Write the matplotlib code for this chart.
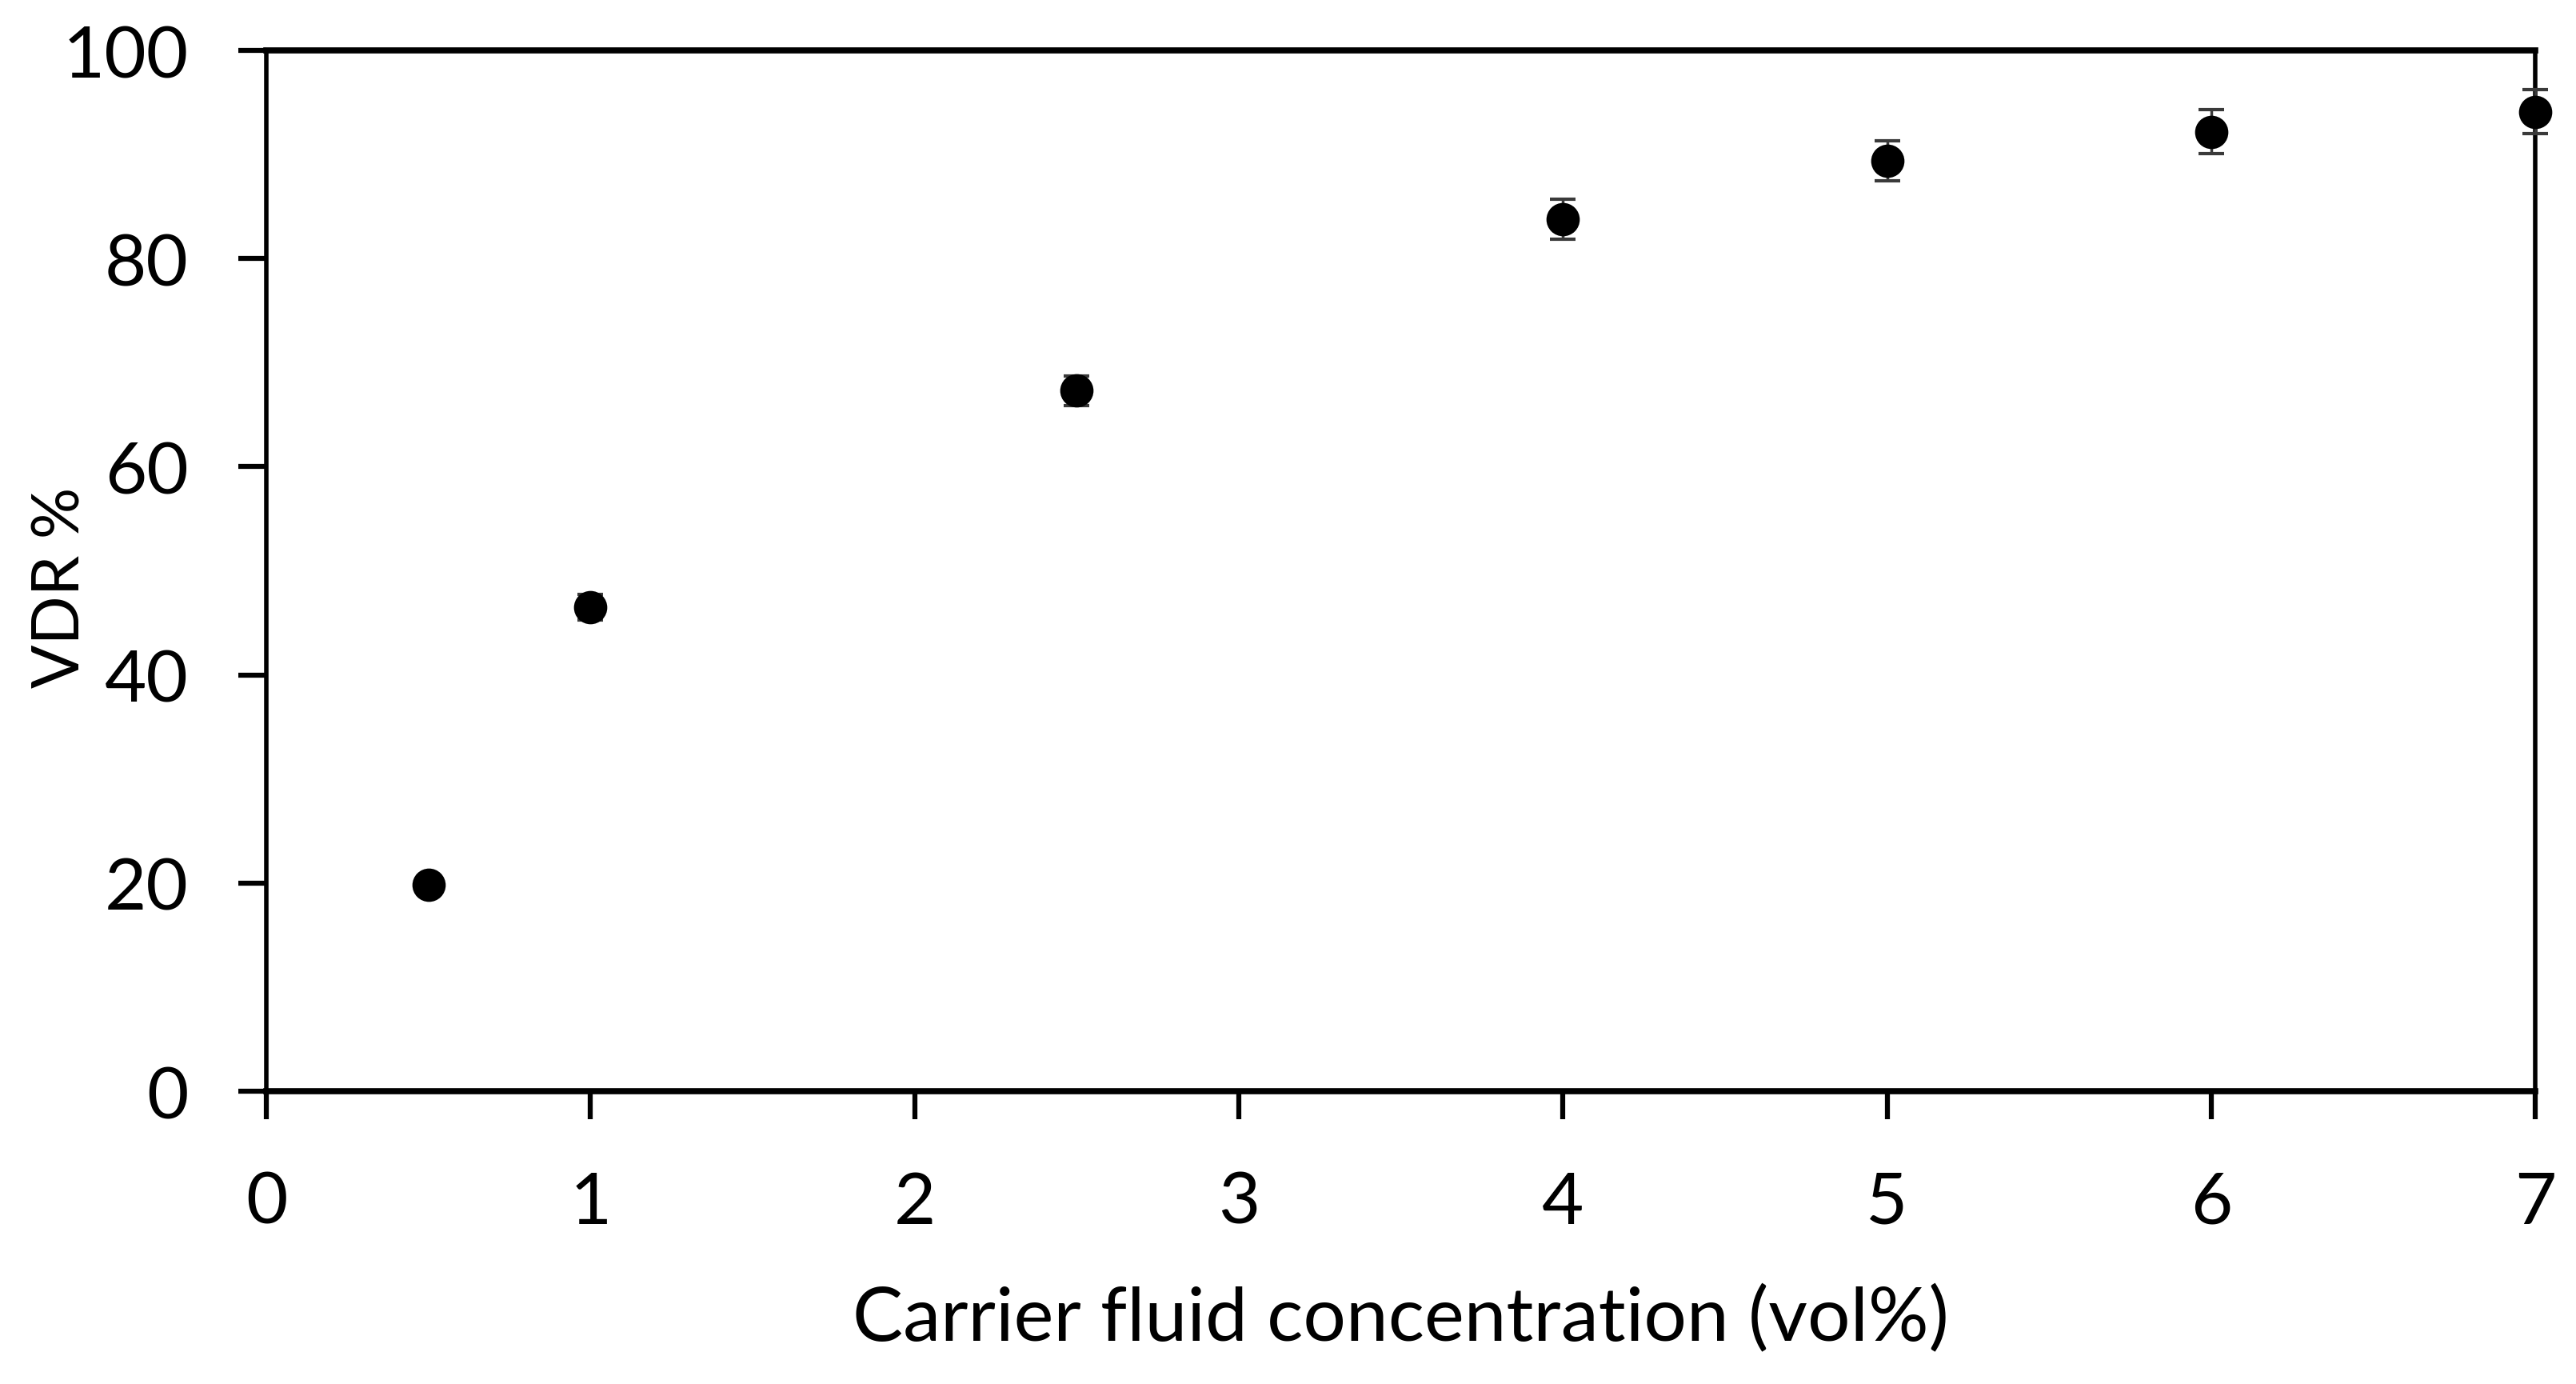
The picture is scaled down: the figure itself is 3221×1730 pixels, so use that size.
import matplotlib
matplotlib.use("Agg")
import matplotlib.pyplot as plt

# Carrier fluid concentration (vol%) vs VDR %
conc = [0.5, 1, 2.5, 4, 5, 6, 7]
vdr = [19.8, 46.5, 67.3, 83.8, 89.4, 92.2, 94.1]
vdr_err = [0.8, 1.2, 1.4, 1.9, 1.9, 2.1, 2.1]

x_ticks = [0, 1, 2, 3, 4, 5, 6, 7]
y_ticks = [0, 20, 40, 60, 80, 100]

plt.rcParams["font.family"] = ["Lato", "DejaVu Sans"]

fig = plt.figure(figsize=(32.21, 17.31), dpi=100)
ax = fig.add_axes([0.1034, 0.2114, 0.8808, 0.7516])

eb = ax.errorbar(conc, vdr, yerr=vdr_err, fmt="o", color="black",
                 ecolor="#3a3a3a", elinewidth=2.5, capsize=11.5, capthick=3,
                 markersize=30, zorder=3, clip_on=False)
# no edge on the dots themselves (keeps the caps' thickness untouched)
eb[0].set_markeredgewidth(0)

ax.set_xlim(0, 7)
ax.set_ylim(0, 100)
ax.set_xticks(x_ticks)
ax.set_yticks(y_ticks)

for side in ("top", "bottom"):
    ax.spines[side].set_linewidth(5.5)
for side in ("left", "right"):
    ax.spines[side].set_linewidth(4)

ax.tick_params(axis="both", direction="out", length=25, width=4.5,
               labelsize=65)
ax.tick_params(axis="y", pad=45)
ax.tick_params(axis="x", pad=46)

ax.set_xlabel("Carrier fluid concentration (vol%)", fontsize=68, labelpad=44)
ax.set_ylabel("VDR %", fontsize=58)
ax.yaxis.set_label_coords(-0.0775, 0.485)

fig.savefig("out.png", dpi=100)
